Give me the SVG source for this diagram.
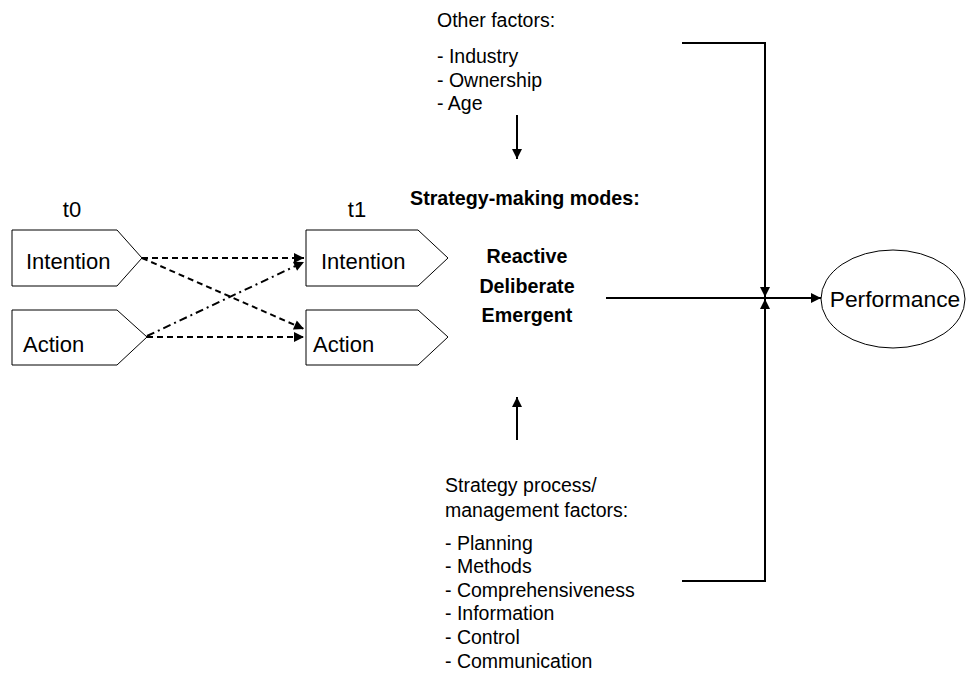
<svg xmlns="http://www.w3.org/2000/svg" width="970" height="675" viewBox="0 0 970 675">
<defs>
<style>
text{font-family:"Liberation Sans",Arial,sans-serif;fill:#000}
.lbl{font-size:22px}
.t{font-size:19.5px}
.b{font-size:19.7px;font-weight:bold}
.shape{fill:#fff;stroke:#000;stroke-width:1}
.ln{fill:none;stroke:#000;stroke-width:2}
.dash{fill:none;stroke:#000;stroke-width:2;stroke-dasharray:6,4}
.dashdot{fill:none;stroke:#000;stroke-width:2;stroke-dasharray:8,4,2,4}
</style>
<marker id="ah" viewBox="0 0 10 10" refX="10" refY="5" markerWidth="5.5" markerHeight="5" orient="auto" markerUnits="strokeWidth">
<path d="M0,0 L10,5 L0,10 z" fill="#000"/>
</marker>
</defs>
<rect width="970" height="675" fill="#fff"/>

<g id="t0-label"><text class="lbl" x="72" y="217" text-anchor="middle">t0</text></g>
<g id="t1-label"><text class="lbl" x="357" y="217" text-anchor="middle">t1</text></g>

<g id="intention-t0">
<polygon class="shape" points="12,230 117,230 142,258 117,286 12,286"/>
<text class="lbl" x="26" y="269">Intention</text>
</g>
<g id="action-t0">
<polygon class="shape" points="12,310 117,310 147,337 117,365 12,365"/>
<text class="lbl" x="23" y="352">Action</text>
</g>
<g id="intention-t1">
<polygon class="shape" points="306,230 418,230 448,258 418,286 306,286"/>
<text class="lbl" x="321" y="269">Intention</text>
</g>
<g id="action-t1">
<polygon class="shape" points="306,310 418,310 448,337 418,365 306,365"/>
<text class="lbl" x="313" y="352">Action</text>
</g>

<g id="other-factors">
<text class="t" x="437" y="27">Other factors:</text>
<text class="t" x="437" y="63">- Industry</text>
<text class="t" x="437" y="86.5">- Ownership</text>
<text class="t" x="437" y="110">- Age</text>
</g>

<g id="strategy-modes">
<text class="b" x="410" y="205">Strategy-making modes:</text>
<text class="b" x="527" y="263" text-anchor="middle">Reactive</text>
<text class="b" x="527" y="293" text-anchor="middle">Deliberate</text>
<text class="b" x="527" y="322" text-anchor="middle">Emergent</text>
</g>

<g id="process-factors">
<text class="t" x="445" y="492">Strategy process/</text>
<text class="t" x="445" y="517">management factors:</text>
<text class="t" x="445" y="550">- Planning</text>
<text class="t" x="445" y="573">- Methods</text>
<text class="t" x="445" y="597">- Comprehensiveness</text>
<text class="t" x="445" y="620">- Information</text>
<text class="t" x="445" y="644">- Control</text>
<text class="t" x="445" y="668">- Communication</text>
</g>

<g id="performance">
<ellipse class="shape" cx="893" cy="299" rx="72" ry="49"/>
<text class="lbl" x="895" y="307" text-anchor="middle" style="font-size:22.8px">Performance</text>
</g>

<g id="connectors">
<line class="dash" x1="142" y1="258" x2="304" y2="258" marker-end="url(#ah)"/>
<line class="dash" x1="142" y1="258" x2="304" y2="329" marker-end="url(#ah)"/>
<line class="dashdot" x1="147" y1="336" x2="304" y2="262" marker-end="url(#ah)"/>
<line class="dash" x1="147" y1="337" x2="304" y2="337" marker-end="url(#ah)"/>
<line class="ln" x1="517" y1="115" x2="517" y2="159" marker-end="url(#ah)"/>
<line class="ln" x1="517" y1="440" x2="517" y2="397" marker-end="url(#ah)"/>
<line class="ln" x1="606" y1="298" x2="821" y2="298" marker-end="url(#ah)"/>
<polyline class="ln" points="682,43 765,43 765,297" marker-end="url(#ah)"/>
<polyline class="ln" points="682,581 765,581 765,299" marker-end="url(#ah)"/>
</g>
</svg>
